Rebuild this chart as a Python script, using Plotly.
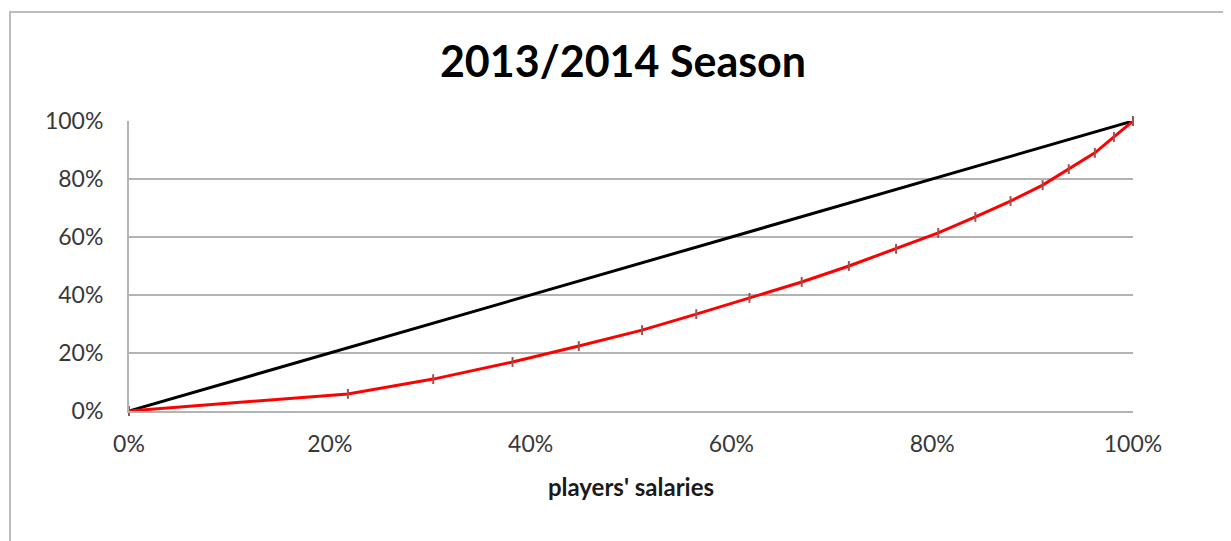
import plotly.graph_objects as go

# Data (fractions)
salary_share = [0.0, 0.218, 0.303, 0.382, 0.448, 0.511, 0.565, 0.618, 0.670, 0.717,
                0.764, 0.806, 0.843, 0.878, 0.910, 0.936, 0.962, 0.981, 1.0]
player_share = [0.0, 0.059, 0.110, 0.169, 0.224, 0.279, 0.334, 0.390, 0.445, 0.500,
                0.559, 0.614, 0.669, 0.724, 0.779, 0.834, 0.890, 0.945, 1.0]
equality_x = [0.0, 1.0]
equality_y = [0.0, 1.0]
tick_vals = [0, 0.2, 0.4, 0.6, 0.8, 1.0]

OFF = 8  # page body margin
W, H = 1231 - OFF, 541 - OFF
L, T = 129 - OFF, 121 - OFF
R = W - (1133 - OFF)
B = H - (411 - OFF)
pw, ph = W - L - R, H - T - B

def px_x(p):
    return (p - OFF - L) / pw

def px_y(p):
    return (H - B - (p - OFF)) / ph

fig = go.Figure()
fig.add_trace(go.Scatter(x=equality_x, y=equality_y, mode="lines",
                         line=dict(color="#000000", width=3), cliponaxis=False,
                         showlegend=False, hoverinfo="skip"))
fig.add_trace(go.Scatter(x=salary_share, y=player_share, mode="lines+markers",
                         line=dict(color="#ff0000", width=3),
                         marker=dict(symbol="line-ns", size=7,
                                     line=dict(color="#a05050", width=2)),
                         cliponaxis=False, showlegend=False))

FONT = "Lato, Carlito, sans-serif"
tick_font = dict(family=FONT, size=23, color="#383838")

fig.update_layout(
    width=W, height=H,
    margin=dict(l=L, r=R, t=T, b=B, autoexpand=False),
    paper_bgcolor="white", plot_bgcolor="white",
    title=dict(text="<b>2013/2014 Season</b>", x=(623 - OFF) / W, xref="container",
               xanchor="center", y=1 - (62 - OFF) / H, yanchor="middle",
               font=dict(family=FONT, size=43, color="#000000")),
    xaxis=dict(range=[0, 1], tickvals=tick_vals, tickformat=".0%",
               showgrid=False, zeroline=False,
               showline=True, linecolor="#b3b3b3", linewidth=2,
               ticks="", ticklabelstandoff=11, tickfont=tick_font,
               title=dict(text="<b>players' salaries</b>", standoff=24,
                          font=dict(family=FONT, size=24, color="#1a1a1a"))),
    yaxis=dict(range=[0, 1], tickvals=tick_vals, tickformat=".0%",
               showgrid=True, gridcolor="#b3b3b3", gridwidth=2,
               zeroline=False, showline=True, linecolor="#b3b3b3", linewidth=2,
               ticks="", ticklabelstandoff=19, tickfont=tick_font),
    shapes=[dict(type="rect", xref="paper", yref="paper",
                 x0=px_x(10), x1=px_x(1245), y0=px_y(560), y1=px_y(12),
                 line=dict(color="#bdbdbd", width=2), fillcolor="rgba(0,0,0,0)",
                 layer="below")],
)

fig.write_html("out.html")
